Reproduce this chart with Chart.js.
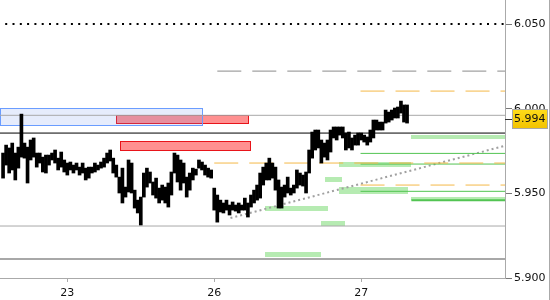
<!DOCTYPE html>
<html>
<head>
<meta charset="utf-8">
<script src="https://cdn.jsdelivr.net/npm/chart.js@4.4.1/dist/chart.umd.min.js"></script>
<style>
  html, body { margin: 0; padding: 0; background: #fff; }
  canvas { display: block; }
</style>
</head>
<body>
<canvas id="priceChart" width="550" height="300"></canvas>
<script>
// bars are half-hour slots, slot 0 = start of day 23
const firstSlot = -21;
const highs = [
  5.9738, 5.9785, 5.9768, 5.9797, 5.9738, 5.9773, 5.9968, 5.9797, 5.9773, 5.9815,
  5.9827, 5.9738, 5.9738, 5.9714, 5.9726, 5.9726, 5.9738, 5.9756, 5.9708, 5.9744,
  5.9697, 5.9679, 5.9685, 5.9667, 5.9679, 5.9655, 5.9679, 5.9649, 5.9655, 5.9655,
  5.9679, 5.9667, 5.9685, 5.9708, 5.9738, 5.9756, 5.9708, 5.9667, 5.9596, 5.9649,
  5.9537, 5.9697, 5.9679, 5.9519, 5.9460, 5.9478, 5.9620, 5.9649, 5.9626, 5.9567,
  5.9590, 5.9531, 5.9549, 5.9537, 5.9561, 5.9626, 5.9738, 5.9726, 5.9697, 5.9679,
  5.9596, 5.9620, 5.9649, 5.9643, 5.9697, 5.9685, 5.9667, 5.9649, 5.9638, 5.9531,
  5.9490, 5.9460, 5.9443, 5.9460, 5.9431, 5.9449, 5.9431, 5.9443, 5.9431, 5.9472,
  5.9443, 5.9490, 5.9519, 5.9549, 5.9620, 5.9655, 5.9679, 5.9708, 5.9679, 5.9655,
  5.9579, 5.9537, 5.9549, 5.9596, 5.9531, 5.9549, 5.9638, 5.9620, 5.9608, 5.9626,
  5.9756, 5.9862, 5.9874, 5.9874, 5.9815, 5.9797, 5.9815, 5.9874, 5.9892, 5.9892,
  5.9892, 5.9892, 5.9856, 5.9862, 5.9827, 5.9844, 5.9856, 5.9856, 5.9844, 5.9833,
  5.9874, 5.9933, 5.9933, 5.9921, 5.9921, 5.9992, 5.9980, 5.9992, 6.0004, 6.0010,
  6.0045, 6.0022, 6.0022
];
const lows = [
  5.9590, 5.9667, 5.9620, 5.9638, 5.9579, 5.9649, 5.9714, 5.9708, 5.9561, 5.9697,
  5.9714, 5.9655, 5.9679, 5.9626, 5.9620, 5.9667, 5.9697, 5.9679, 5.9638, 5.9655,
  5.9626, 5.9608, 5.9638, 5.9620, 5.9638, 5.9608, 5.9620, 5.9579, 5.9590, 5.9620,
  5.9626, 5.9638, 5.9649, 5.9655, 5.9679, 5.9691, 5.9620, 5.9596, 5.9502, 5.9443,
  5.9478, 5.9508, 5.9502, 5.9413, 5.9384, 5.9313, 5.9478, 5.9537, 5.9561, 5.9490,
  5.9472, 5.9443, 5.9460, 5.9443, 5.9419, 5.9490, 5.9620, 5.9567, 5.9519, 5.9561,
  5.9478, 5.9519, 5.9579, 5.9608, 5.9649, 5.9638, 5.9608, 5.9596, 5.9590, 5.9401,
  5.9330, 5.9390, 5.9384, 5.9401, 5.9372, 5.9401, 5.9395, 5.9384, 5.9401, 5.9401,
  5.9360, 5.9419, 5.9443, 5.9460, 5.9472, 5.9549, 5.9579, 5.9579, 5.9590, 5.9519,
  5.9413, 5.9413, 5.9478, 5.9502, 5.9490, 5.9502, 5.9531, 5.9549, 5.9543, 5.9502,
  5.9620, 5.9708, 5.9756, 5.9768, 5.9679, 5.9714, 5.9697, 5.9744, 5.9827, 5.9815,
  5.9844, 5.9827, 5.9756, 5.9768, 5.9756, 5.9785, 5.9785, 5.9815, 5.9803, 5.9785,
  5.9803, 5.9827, 5.9874, 5.9874, 5.9874, 5.9915, 5.9921, 5.9933, 5.9945, 5.9945,
  5.9974, 5.9921, 5.9915
];
const lastPrice = 5.994;

const daySlots = [0, 48, 96];
const dayLabels = ["23", "26", "27"];
const priceTicks = [5.900, 5.950, 6.000, 6.050];
const slotMin = -22, slotMax = 143;
const priceMin = 5.900, priceMax = 6.0642;

// levels: [start slot, price]
const dotLevels = [[-20.3, 6.050]];
const grayDashLevels = [[49, 6.0222]];
const orangeLevels = [[95.8, 6.0104], [48, 5.9679], [95.8, 5.9549]];
const grayLevels = [[slotMin, 5.9961], [slotMin, 5.9307]];
const grayThickLevels = [[slotMin, 5.9112]];
const blackLevels = [[slotMin, 5.9856]];
const greenLevels = [[95.8, 5.9736], [95.8, 5.9673], [95.8, 5.9512]];
const greenThickLevels = [[112.4, 5.9459]];
const trendPoints = [[53.3, 5.9354], [143, 5.9781]];

// zones: [slot from, slot to, price top, price bottom]
const greenZones = [
  [112.4, 143, 5.9844, 5.9821],
  [88.6, 112.4, 5.9685, 5.9655],
  [84.3, 89.9, 5.9596, 5.9567],
  [88.6, 111.4, 5.9537, 5.9496],
  [112.4, 143, 5.9478, 5.9460],
  [64.7, 85.3, 5.9425, 5.9395],
  [83.0, 90.8, 5.9336, 5.9307],
  [64.7, 83.0, 5.9153, 5.9124]
];
const redZones = [
  [16.0, 59.5, 5.9961, 5.9912],
  [17.3, 60.1, 5.9809, 5.9753]
];
const blueZones = [
  [-22, 44.2, 6.0002, 5.9896]
];

function levelSet(levels, color, width, dash) {
  return levels.map(([from, y]) => ({
    type: "line",
    data: [{ x: from, y: y }, { x: slotMax, y: y }],
    borderColor: color,
    borderWidth: width,
    borderDash: dash,
    pointRadius: 0,
    fill: false,
    order: 2
  }));
}

const zonePlugin = {
  id: "zones",
  beforeDatasetsDraw(chart) {
    const { ctx, chartArea, scales: { x, y } } = chart;
    ctx.save();
    ctx.beginPath();
    ctx.rect(chartArea.left, chartArea.top, chartArea.right - chartArea.left, chartArea.bottom - chartArea.top);
    ctx.clip();
    const box = (z, fill, stroke) => {
      const x1 = Math.round(x.getPixelForValue(z[0])), x2 = Math.round(x.getPixelForValue(z[1]));
      const y1 = Math.round(y.getPixelForValue(z[2])), y2 = Math.round(y.getPixelForValue(z[3]));
      ctx.fillStyle = fill;
      ctx.fillRect(x1, y1, x2 - x1, y2 - y1);
      if (stroke) {
        ctx.strokeStyle = stroke;
        ctx.lineWidth = 1;
        ctx.strokeRect(x1 + 0.5, y1 + 0.5, x2 - x1 - 1, y2 - y1 - 1);
      }
    };
    greenZones.forEach(z => box(z, "#b6ebb2"));
    redZones.forEach(z => box(z, "#ff9090", "#e8141a"));
    blueZones.forEach(z => box(z, "rgba(108,144,238,0.17)", "#6a9cff"));
    ctx.restore();
  },
  afterDraw(chart) {
    const { ctx, chartArea, scales: { y } } = chart;
    ctx.save();
    // outer frame on the right
    ctx.strokeStyle = "#aaa";
    ctx.lineWidth = 1;
    ctx.beginPath();
    ctx.moveTo(549.5, 0);
    ctx.lineTo(549.5, chart.height);
    ctx.stroke();
    // last price marker
    const py = Math.round(y.getPixelForValue(lastPrice));
    ctx.strokeStyle = "#333";
    ctx.beginPath();
    ctx.moveTo(chartArea.right, py + 0.5);
    ctx.lineTo(chartArea.right + 7, py + 0.5);
    ctx.stroke();
    const bx = chartArea.right + 7, bw = 548 - bx, bh = 20;
    const grad = ctx.createLinearGradient(0, py - 10, 0, py + 10);
    grad.addColorStop(0, "#ffdc1a");
    grad.addColorStop(1, "#f2c200");
    ctx.fillStyle = grad;
    ctx.fillRect(bx, py - 10, bw, bh);
    ctx.strokeStyle = "#a8a8a8";
    ctx.strokeRect(bx + 0.5, py - 9.5, bw - 1, bh - 1);
    ctx.fillStyle = "#111";
    ctx.font = "11px 'DejaVu Sans'";
    ctx.textBaseline = "middle";
    ctx.fillText(lastPrice.toFixed(3), chartArea.right + 9, py + 0.5);
    ctx.restore();
  }
};

const bars = highs.map((h, k) => ({ x: firstSlot + k, y: [lows[k], h] }));

const datasets = [
  {
    type: "bar",
    data: bars,
    backgroundColor: "#000",
    borderWidth: 0,
    barThickness: 3,
    grouped: false,
    order: 1
  },
  ...levelSet(dotLevels, "#000", 2, [2, 5.3]),
  ...levelSet(grayDashLevels, "#8a8a8a", 1, [24, 11]),
  ...levelSet(orangeLevels, "#f4b848", 1, [24, 11]),
  ...levelSet(grayLevels, "#a8a8a8", 1, []),
  ...levelSet(grayThickLevels, "#a8a8a8", 2, []),
  ...levelSet(blackLevels, "#000", 1, []),
  ...levelSet(greenLevels, "#52c452", 1, []),
  ...levelSet(greenThickLevels, "#52c452", 2, []),
  {
    type: "line",
    data: trendPoints.map(([x, y]) => ({ x: x, y: y })),
    borderColor: "#a0a0a0",
    borderWidth: 2,
    borderDash: [2, 3],
    pointRadius: 0,
    fill: false,
    order: 2
  }
];

new Chart(document.getElementById("priceChart").getContext("2d"), {
  type: "bar",
  data: { datasets: datasets },
  plugins: [zonePlugin],
  options: {
    responsive: false,
    animation: false,
    devicePixelRatio: 1,
    layout: { padding: 0 },
    plugins: { legend: { display: false }, tooltip: { enabled: false } },
    scales: {
      x: {
        type: "linear",
        min: slotMin,
        max: slotMax,
        offset: false,
        afterFit: (s) => { s.height = 22; s.paddingLeft = 0; s.paddingRight = 0; },
        afterBuildTicks: (s) => { s.ticks = daySlots.map(v => ({ value: v })); },
        ticks: {
          autoSkip: false,
          maxRotation: 0,
          padding: 5,
          color: "#111",
          font: { family: "DejaVu Sans", size: 11 },
          callback: (v) => dayLabels[daySlots.indexOf(v)]
        },
        grid: { display: true, drawOnChartArea: false, drawTicks: true, tickLength: 4, color: "#aaa", offset: false },
        border: { display: true, color: "#aaa" }
      },
      y: {
        position: "right",
        min: priceMin,
        max: priceMax,
        afterFit: (s) => { s.width = 45; s.paddingTop = 0; s.paddingBottom = 0; },
        afterBuildTicks: (s) => { s.ticks = priceTicks.map(v => ({ value: v })); },
        ticks: {
          padding: 2,
          color: "#111",
          font: { family: "DejaVu Sans", size: 11 },
          callback: (v) => Number(v).toFixed(3)
        },
        grid: { display: true, drawOnChartArea: false, drawTicks: true, tickLength: 7, color: "#777" },
        border: { display: true, color: "#aaa" }
      }
    }
  }
});
</script>
</body>
</html>
